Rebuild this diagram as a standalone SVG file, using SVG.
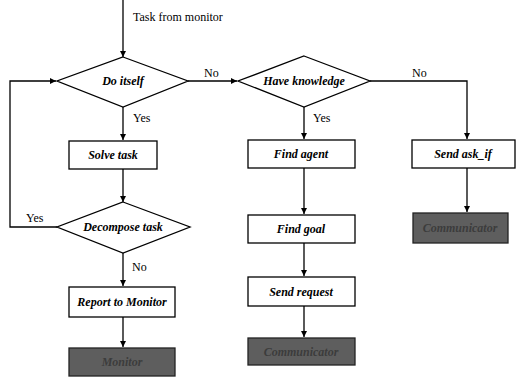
<svg xmlns="http://www.w3.org/2000/svg" width="518" height="378" viewBox="0 0 518 378" font-family="'Liberation Serif', 'DejaVu Serif', serif">
  <style>
    .box { fill: #fff; stroke: #000; stroke-width: 1.3; }
    .dark { fill: #5e5e5e; stroke: #222; stroke-width: 1.3; }
    .dec { fill: #fff; stroke: #000; stroke-width: 1.3; }
    .lbl { font-size: 12px; font-weight: bold; font-style: italic; text-anchor: middle; fill: #000; }
    .dlbl { font-size: 12px; font-weight: bold; font-style: italic; text-anchor: middle; fill: #3c3c3c; }
    .txt { font-size: 12px; fill: #000; }
    .edge { fill: none; stroke: #000; stroke-width: 1.3; }
  </style>
  <defs>
    <marker id="arr" viewBox="0 0 8 8" refX="8" refY="4" markerWidth="6" markerHeight="6" orient="auto" markerUnits="userSpaceOnUse">
      <path d="M0,0 L8,4 L0,8 z" fill="#000"/>
    </marker>
  </defs>
  <rect width="518" height="378" fill="#fff"/>

  <!-- connectors -->
  <g id="edges">
    <path class="edge" d="M123,0 V57" marker-end="url(#arr)"/>
    <path class="edge" d="M188,81 H237" marker-end="url(#arr)"/>
    <path class="edge" d="M123,107 V140" marker-end="url(#arr)"/>
    <path class="edge" d="M123,169 V202" marker-end="url(#arr)"/>
    <path class="edge" d="M57,227 H10 V81 H56" marker-end="url(#arr)"/>
    <path class="edge" d="M123,253 V286" marker-end="url(#arr)"/>
    <path class="edge" d="M123,317 V347" marker-end="url(#arr)"/>
    <path class="edge" d="M304,107 V139" marker-end="url(#arr)"/>
    <path class="edge" d="M370,81 H467 V139" marker-end="url(#arr)"/>
    <path class="edge" d="M304,168 V214" marker-end="url(#arr)"/>
    <path class="edge" d="M304,243 V276" marker-end="url(#arr)"/>
    <path class="edge" d="M304,306 V337" marker-end="url(#arr)"/>
    <path class="edge" d="M467,168 V212" marker-end="url(#arr)"/>
    <text class="txt" x="133" y="21" font-size="11">Task from monitor</text>
    <text class="txt" x="204" y="77">No</text>
    <text class="txt" x="133" y="122">Yes</text>
    <text class="txt" x="26" y="222">Yes</text>
    <text class="txt" x="132" y="271">No</text>
    <text class="txt" x="313" y="122">Yes</text>
    <text class="txt" x="412" y="77">No</text>
  </g>

  <g id="do-itself">
    <polygon class="dec" points="123,57 188,81 123,107 57,81"/>
    <text class="lbl" x="123" y="85">Do itself</text>
  </g>
  <g id="solve-task">
    <rect class="box" x="69" y="141" width="88" height="28"/>
    <text class="lbl" x="113" y="159">Solve task</text>
  </g>
  <g id="decompose-task">
    <polygon class="dec" points="123,202 190,227 123,253 57,227"/>
    <text class="lbl" x="123" y="231">Decompose task</text>
  </g>
  <g id="report-to-monitor">
    <rect class="box" x="69" y="287" width="106" height="30"/>
    <text class="lbl" x="122" y="306">Report to Monitor</text>
  </g>
  <g id="monitor">
    <rect class="dark" x="69" y="348" width="106" height="28"/>
    <text class="dlbl" x="122" y="366">Monitor</text>
  </g>

  <g id="have-knowledge">
    <polygon class="dec" points="304,56 370,81 304,107 238,81"/>
    <text class="lbl" x="304" y="85">Have knowledge</text>
  </g>
  <g id="find-agent">
    <rect class="box" x="248" y="140" width="107" height="28"/>
    <text class="lbl" x="301" y="158">Find agent</text>
  </g>
  <g id="find-goal">
    <rect class="box" x="248" y="215" width="107" height="28"/>
    <text class="lbl" x="301" y="233">Find goal</text>
  </g>
  <g id="send-request">
    <rect class="box" x="248" y="277" width="107" height="29"/>
    <text class="lbl" x="301" y="296">Send request</text>
  </g>
  <g id="communicator-1">
    <rect class="dark" x="248" y="338" width="107" height="27"/>
    <text class="dlbl" x="301" y="356">Communicator</text>
  </g>

  <g id="send-ask-if">
    <rect class="box" x="412" y="140" width="103" height="28"/>
    <text class="lbl" x="463" y="158">Send ask_if</text>
  </g>
  <g id="communicator-2">
    <rect class="dark" x="413" y="213" width="95" height="30"/>
    <text class="dlbl" x="460" y="232">Communicator</text>
  </g>
</svg>
